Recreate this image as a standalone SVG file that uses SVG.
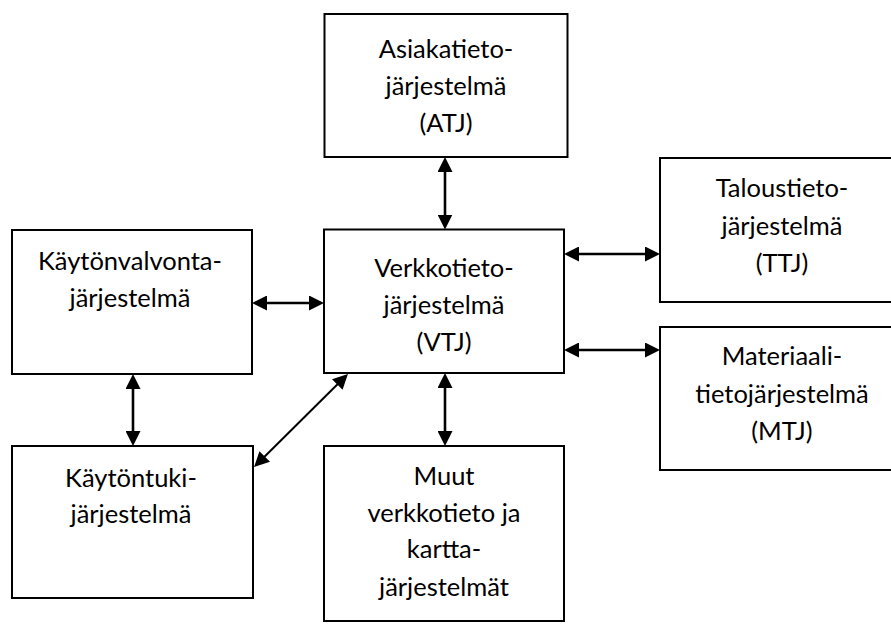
<svg xmlns="http://www.w3.org/2000/svg" width="891" height="631" viewBox="0 0 891 631">
  <style>
    .box { fill: #ffffff; stroke: #000000; stroke-width: 2; }
    .label { font-family: Lato, "Liberation Sans", sans-serif; font-size: 25.5px; fill: #000000; text-anchor: middle; }
    .link { stroke: #000000; stroke-width: 2.6; fill: none; marker-start: url(#head); marker-end: url(#head); }
    .link.thin { stroke-width: 2; }
  </style>
  <defs>
    <marker id="head" viewBox="0 0 15 15" markerWidth="15" markerHeight="15" refX="11" refY="7.5" markerUnits="userSpaceOnUse" orient="auto-start-reverse">
      <path d="M0,0 L15,7.5 L0,15 Z" fill="#000000"/>
    </marker>
  </defs>
  <rect width="891" height="631" fill="#ffffff"/>

  <g id="connectors">
    <line class="link" x1="445" y1="161" x2="445" y2="225.5"/>
    <line class="link" x1="256" y1="303" x2="320" y2="303"/>
    <line class="link" x1="568" y1="254" x2="656" y2="254"/>
    <line class="link" x1="568" y1="350" x2="656" y2="350"/>
    <line class="link" x1="133" y1="378" x2="133" y2="442"/>
    <line class="link" x1="445" y1="377" x2="445" y2="442"/>
    <line class="link thin" x1="345.1" y1="376.8" x2="256.9" y2="464.2"/>
  </g>

  <g id="atj">
    <rect class="box" x="324.5" y="14" width="243" height="143"/>
    <text class="label" x="446" y="58">Asiakatieto-</text>
    <text class="label" x="446" y="95">järjestelmä</text>
    <text class="label" x="446" y="132">(ATJ)</text>
  </g>

  <g id="vtj">
    <rect class="box" x="324" y="229.5" width="240" height="143.5"/>
    <text class="label" x="444" y="277">Verkkotieto-</text>
    <text class="label" x="444" y="314">järjestelmä</text>
    <text class="label" x="444" y="351">(VTJ)</text>
  </g>

  <g id="kaytonvalvonta">
    <rect class="box" x="12" y="230" width="240" height="144"/>
    <text class="label" x="130" y="270">Käytönvalvonta-</text>
    <text class="label" x="130" y="307">järjestelmä</text>
  </g>

  <g id="kaytontuki">
    <rect class="box" x="12" y="446" width="241" height="152"/>
    <text class="label" x="131" y="487">Käytöntuki-</text>
    <text class="label" x="131" y="523">järjestelmä</text>
  </g>

  <g id="muut">
    <rect class="box" x="324" y="446" width="240" height="175"/>
    <text class="label" x="444" y="485">Muut</text>
    <text class="label" x="444" y="522">verkkotieto ja</text>
    <text class="label" x="444" y="558">kartta-</text>
    <text class="label" x="444" y="596">järjestelmät</text>
  </g>

  <g id="ttj">
    <rect class="box" x="660" y="158" width="243" height="144"/>
    <text class="label" x="782" y="197">Taloustieto-</text>
    <text class="label" x="782" y="235">järjestelmä</text>
    <text class="label" x="782" y="272">(TTJ)</text>
  </g>

  <g id="mtj">
    <rect class="box" x="660" y="327" width="243" height="143"/>
    <text class="label" x="782" y="365">Materiaali-</text>
    <text class="label" x="782" y="403">tietojärjestelmä</text>
    <text class="label" x="782" y="440">(MTJ)</text>
  </g>
</svg>
